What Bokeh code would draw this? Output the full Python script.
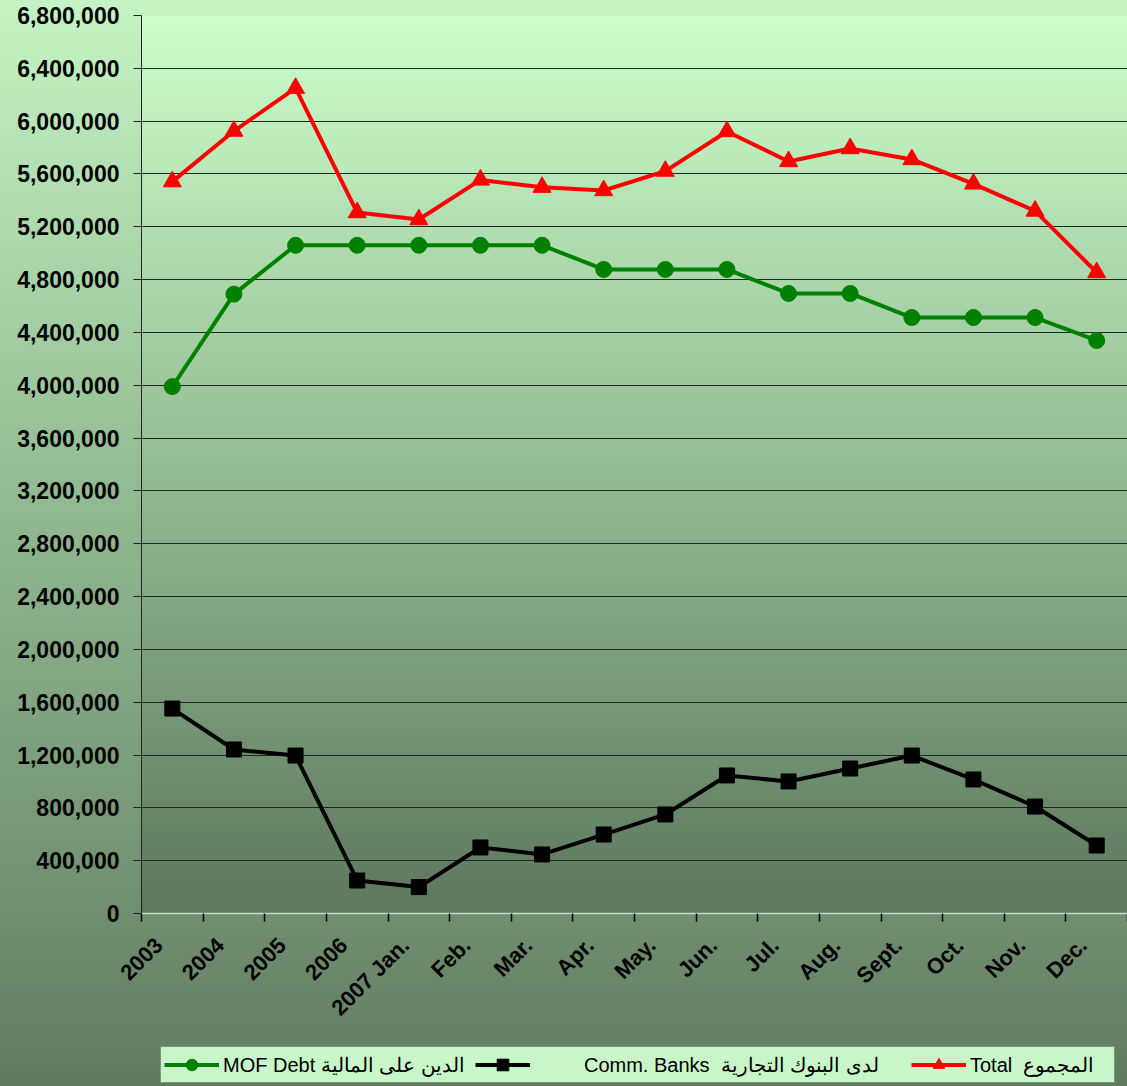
import math
import numpy as np
from bokeh.plotting import figure
from bokeh.layouts import column
from bokeh.models import (FixedTicker, Legend, LegendItem, NumeralTickFormatter,
                          Range1d, InlineStyleSheet)
from bokeh.embed import file_html
from bokeh.resources import INLINE

categories = ["2003", "2004", "2005", "2006", "2007 Jan.", "Feb.", "Mar.", "Apr.",
              "May.", "Jun.", "Jul.", "Aug.", "Sept.", "Oct.", "Nov.", "Dec."]
mof_debt = [3990000, 4690000, 5060000, 5060000, 5060000, 5060000, 5060000, 4877000,
            4877000, 4877000, 4695000, 4695000, 4513000, 4513000, 4513000, 4339000]
comm_banks = [1552000, 1242000, 1196000, 250000, 200000, 500000, 447000, 598000,
              750000, 1045000, 1000000, 1098000, 1196000, 1015000, 810000, 515000]
total = [5542000, 5925000, 6250000, 5308000, 5255000, 5555000, 5500000, 5475000,
         5622000, 5922000, 5695000, 5793000, 5710000, 5525000, 5320000, 4854000]
y_ticks = list(range(0, 6800001, 400000))

NB = "\u00a0"
legend_labels = ["MOF Debt الدين على المالية",
                 NB * 9 + "Comm. Banks  لدى البنوك التجارية" + NB * 4,
                 "Total  المجموع" + NB * 3]

n = len(categories)
xs = [i + 0.5 for i in range(n)]
label_pos = [i + 0.28 for i in range(n)]
y_max = y_ticks[-1]

p = figure(width=1127, height=1040, x_range=Range1d(0, n), y_range=Range1d(0, y_max),
           output_backend="svg", toolbar_location=None,
           min_border_left=141, min_border_right=0, min_border_top=15, min_border_bottom=127)
p.background_fill_color = None
p.border_fill_color = None
p.outline_line_color = None
p.stylesheets = [InlineStyleSheet(css=":host { background: linear-gradient(to bottom, #c4f4c4 0%, #90b790 50%, #668166 100%); }")]

# plot-area gradient
N = 256
top = np.array([204, 255, 204], dtype=float)
bot = np.array([94, 120, 94], dtype=float)
t = np.linspace(0, 1, N)[:, None]
cols = (bot * (1 - t) + top * t).astype(np.uint32)
img = np.zeros((N, 1), dtype=np.uint32)
view = img.view(dtype=np.uint8).reshape((N, 1, 4))
view[:, 0, 0] = cols[:, 0]
view[:, 0, 1] = cols[:, 1]
view[:, 0, 2] = cols[:, 2]
view[:, 0, 3] = 255
p.image_rgba(image=[img], x=0, y=0, dw=n, dh=y_max, level="image")

# axes
p.xaxis.ticker = FixedTicker(ticks=label_pos, minor_ticks=list(range(n + 1)))
p.xaxis.major_label_overrides = {x: c for x, c in zip(label_pos, categories)}
p.xaxis.major_tick_out = 0
p.xaxis.major_tick_in = 0
p.xaxis.minor_tick_out = 8
p.xaxis.minor_tick_in = 0
p.xaxis.minor_tick_line_color = "black"
p.xaxis.minor_tick_line_width = 1.5
p.xaxis.axis_line_color = "#c0e4c0"
p.xaxis.axis_line_width = 1.5
p.xaxis.major_label_orientation = math.pi / 4
p.xaxis.major_label_text_font = "Liberation Sans"
p.xaxis.major_label_text_font_style = "bold"
p.xaxis.major_label_text_font_size = "22px"
p.xaxis.major_label_text_color = "black"
p.xaxis.major_label_standoff = 20

p.yaxis.ticker = FixedTicker(ticks=y_ticks)
p.yaxis.formatter = NumeralTickFormatter(format="0,0")
p.yaxis.major_tick_out = 8
p.yaxis.major_tick_in = 0
p.yaxis.minor_tick_out = 0
p.yaxis.minor_tick_in = 0
p.yaxis.major_tick_line_color = "#222222"
p.yaxis.axis_line_color = "#222222"
p.yaxis.major_label_text_font = "Liberation Sans"
p.yaxis.major_label_text_font_style = "bold"
p.yaxis.major_label_text_font_size = "23px"
p.yaxis.major_label_text_color = "black"
p.yaxis.major_label_standoff = 14

p.xgrid.visible = False
p.ygrid.ticker = FixedTicker(ticks=y_ticks[1:-1])
p.ygrid.grid_line_color = "#1e2a1e"
p.ygrid.grid_line_width = 1.2

# series
styles = [dict(color="#008000", marker="circle", size=16),
          dict(color="black", marker="square", size=15),
          dict(color="#ff0000", marker="triangle", size=18)]
for vals, st in zip([mof_debt, comm_banks, total], styles):
    p.line(xs, vals, line_color=st["color"], line_width=4)
    p.scatter(xs, vals, marker=st["marker"], size=st["size"],
              fill_color=st["color"], line_color=st["color"])

# legend strip (separate figure under the chart; its glyphs only feed the legend)
p2 = figure(width=1127, height=46, x_range=Range1d(0, 1), y_range=Range1d(0, 1),
            output_backend="svg", toolbar_location=None,
            x_axis_type=None, y_axis_type=None,
            min_border_left=0, min_border_right=0, min_border_top=0, min_border_bottom=0)
p2.background_fill_color = None
p2.border_fill_color = None
p2.outline_line_color = None
p2.xgrid.visible = False
p2.ygrid.visible = False
p2.stylesheets = [InlineStyleSheet(css=":host { background: linear-gradient(to bottom, #668166 0%, #617b61 100%); }")]

items = []
for lab, st in zip(legend_labels, styles):
    lr = p2.line([-5, -4], [-5, -5], line_color=st["color"], line_width=4)
    sr = p2.scatter([-5], [-5], marker=st["marker"], size=st["size"],
                    fill_color=st["color"], line_color=st["color"])
    items.append(LegendItem(label=lab, renderers=[lr, sr]))

legend = Legend(items=items, location=(19, 3), orientation="horizontal",
                glyph_width=55, glyph_height=29, label_standoff=4, spacing=10,
                padding=3, margin=0,
                background_fill_color="#c8f6c8", background_fill_alpha=1,
                border_line_color="#333333", border_line_width=1,
                label_text_font="Liberation Sans", label_text_font_size="20px",
                label_text_color="black")
p2.add_layout(legend)

layout = column(p, p2, spacing=0)
open("out.html", "w").write(file_html(layout, INLINE))
